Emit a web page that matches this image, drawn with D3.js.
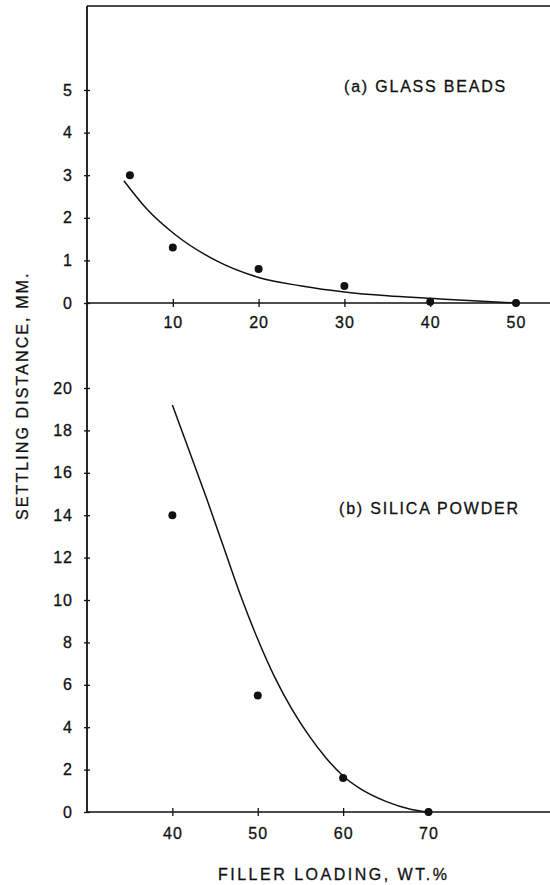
<!DOCTYPE html>
<html lang="en">
<head>
<meta charset="utf-8">
<title>Settling distance vs filler loading</title>
<script src="https://d3js.org/d3.v7.min.js"></script>
<style>
  body { margin: 0; background: #fff; }
  svg text { font-family: "Liberation Sans", Arial, Helvetica, sans-serif; fill: #111; stroke: #111; stroke-width: 0.3px; }
</style>
</head>
<body>
<div id="chart"></div>
<script>
// (a) glass beads - measured points
var beadsX = [5, 10, 20, 30, 40, 50];
var beadsY = [3.0, 1.3, 0.8, 0.4, 0.03, 0];
// (a) fitted curve
var beadsCurveX = [4.3, 7, 10, 15, 20, 25, 30, 35, 40, 45, 50];
var beadsCurveY = [2.87, 2.2, 1.65, 1.0, 0.6, 0.4, 0.26, 0.17, 0.11, 0.05, 0];

// (b) silica powder - measured points
var silicaX = [40, 50, 60, 70];
var silicaY = [14, 5.5, 1.6, 0];
// (b) fitted curve
var silicaCurveX = [40, 42, 44, 46, 48, 50, 52, 54, 56, 58, 60, 62, 65, 68, 70];
var silicaCurveY = [19.2, 17.0, 14.8, 12.5, 10.2, 8.15, 6.35, 4.85, 3.6, 2.55, 1.7, 1.1, 0.5, 0.12, 0];

// tick values
var beadsXTicks = [10, 20, 30, 40, 50];
var beadsYTicks = [0, 1, 2, 3, 4, 5];
var silicaXTicks = [40, 50, 60, 70];
var silicaYTicks = [0, 2, 4, 6, 8, 10, 12, 14, 16, 18, 20];

var width = 550;
var height = 885;
var axisX = 87;

var svg = d3.select("#chart")
  .append("svg")
  .attr("width", width)
  .attr("height", height);

// scales
var xTop = d3.scaleLinear().domain([0, 50]).range([axisX, 516]);
var yTop = d3.scaleLinear().domain([0, 5]).range([303, 90]);
var xBot = d3.scaleLinear().domain([30, 70]).range([axisX, 428.5]);
var yBot = d3.scaleLinear().domain([0, 20]).range([812, 388]);

var ink = "#111";

// frame: left axis, top border, the two baselines
svg.append("line").attr("x1", axisX).attr("x2", axisX).attr("y1", 6).attr("y2", yBot(0))
  .attr("stroke", ink).attr("stroke-width", 1.8);
svg.append("line").attr("x1", axisX).attr("x2", width).attr("y1", 6).attr("y2", 6)
  .attr("stroke", ink).attr("stroke-width", 1.5);
svg.append("line").attr("x1", axisX).attr("x2", width).attr("y1", yTop(0)).attr("y2", yTop(0))
  .attr("stroke", ink).attr("stroke-width", 1.6);
svg.append("line").attr("x1", axisX).attr("x2", width).attr("y1", yBot(0)).attr("y2", yBot(0))
  .attr("stroke", ink).attr("stroke-width", 1.6);

// axes with small cross ticks
function styleAxis(g, vertical) {
  g.select(".domain").remove();
  g.selectAll(".tick line").attr("stroke", ink).attr("stroke-width", 1.3);
  if (vertical) {
    g.selectAll(".tick line").attr("x1", -3).attr("x2", 3);
  } else {
    g.selectAll(".tick line").attr("y1", -4).attr("y2", 4);
  }
  g.selectAll(".tick text")
    .attr("font-size", 16)
    .attr("letter-spacing", 1)
    .attr("fill", ink);
}

svg.append("g")
  .attr("transform", "translate(" + axisX + ",0)")
  .call(d3.axisLeft(yTop).tickValues(beadsYTicks).tickFormat(d3.format("d")).tickSize(3).tickPadding(11))
  .call(styleAxis, true);

svg.append("g")
  .attr("transform", "translate(" + axisX + ",0)")
  .call(d3.axisLeft(yBot).tickValues(silicaYTicks).tickFormat(d3.format("d")).tickSize(3).tickPadding(11))
  .call(styleAxis, true);

svg.append("g")
  .attr("transform", "translate(0," + yTop(0) + ")")
  .call(d3.axisBottom(xTop).tickValues(beadsXTicks).tickFormat(d3.format("d")).tickSize(4).tickPadding(10))
  .call(styleAxis, false);

svg.append("g")
  .attr("transform", "translate(0," + yBot(0) + ")")
  .call(d3.axisBottom(xBot).tickValues(silicaXTicks).tickFormat(d3.format("d")).tickSize(4).tickPadding(12))
  .call(styleAxis, false);

// curves
var beadsLine = d3.line()
  .x(function(d) { return xTop(d[0]); })
  .y(function(d) { return yTop(d[1]); })
  .curve(d3.curveMonotoneX);

var silicaLine = d3.line()
  .x(function(d) { return xBot(d[0]); })
  .y(function(d) { return yBot(d[1]); })
  .curve(d3.curveMonotoneX);

svg.append("path")
  .datum(d3.zip(beadsCurveX, beadsCurveY))
  .attr("d", beadsLine)
  .attr("fill", "none")
  .attr("stroke", ink)
  .attr("stroke-width", 1.5);

svg.append("path")
  .datum(d3.zip(silicaCurveX, silicaCurveY))
  .attr("d", silicaLine)
  .attr("fill", "none")
  .attr("stroke", ink)
  .attr("stroke-width", 1.5);

// points
svg.append("g").selectAll("circle")
  .data(d3.zip(beadsX, beadsY))
  .enter()
  .append("circle")
  .attr("cx", function(d) { return xTop(d[0]); })
  .attr("cy", function(d) { return yTop(d[1]); })
  .attr("r", 4)
  .attr("fill", ink);

svg.append("g").selectAll("circle")
  .data(d3.zip(silicaX, silicaY))
  .enter()
  .append("circle")
  .attr("cx", function(d) { return xBot(d[0]); })
  .attr("cy", function(d) { return yBot(d[1]); })
  .attr("r", 4)
  .attr("fill", ink);

// panel labels
svg.append("text")
  .attr("x", 344).attr("y", 92)
  .attr("font-size", 16).attr("letter-spacing", 1.8)
  .text("(a) GLASS BEADS");

svg.append("text")
  .attr("x", 339).attr("y", 514)
  .attr("font-size", 16).attr("letter-spacing", 1.8)
  .text("(b) SILICA POWDER");

// axis titles
svg.append("text")
  .attr("x", 218).attr("y", 880)
  .attr("font-size", 16).attr("letter-spacing", 2.5)
  .text("FILLER LOADING, WT.%");

svg.append("text")
  .attr("transform", "translate(28,520) rotate(-90)")
  .attr("font-size", 16).attr("letter-spacing", 2.1)
  .text("SETTLING DISTANCE, MM.");
</script>
</body>
</html>
